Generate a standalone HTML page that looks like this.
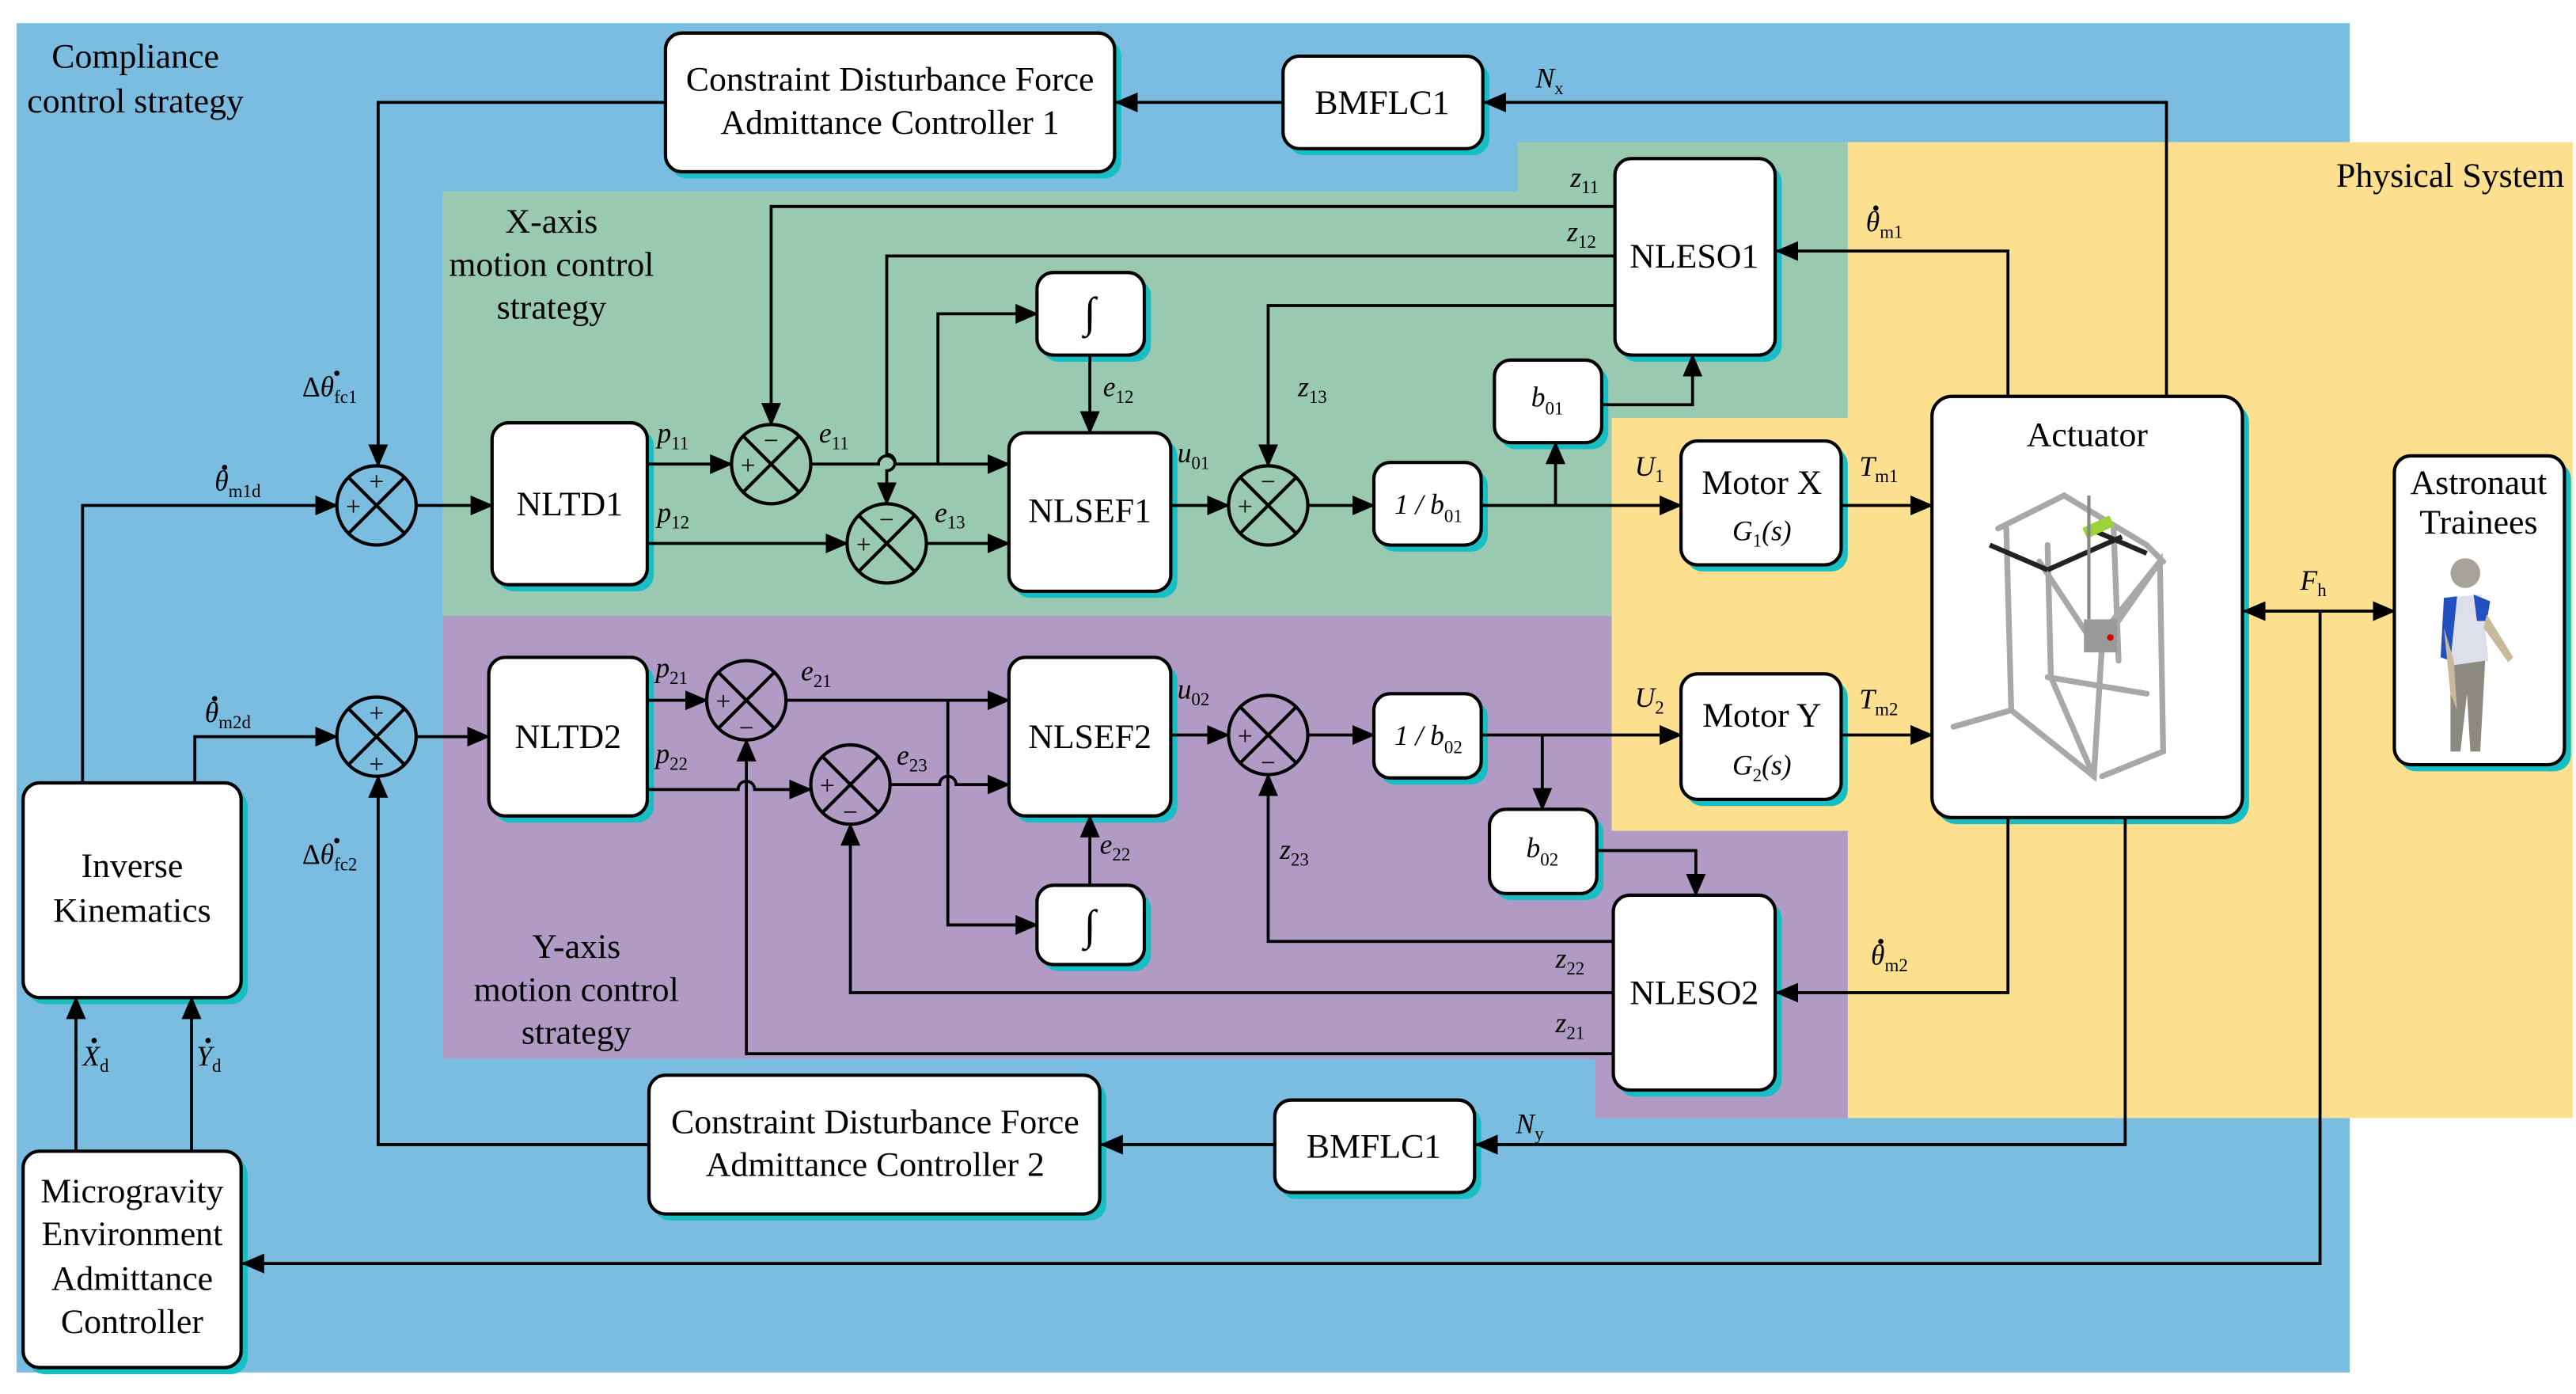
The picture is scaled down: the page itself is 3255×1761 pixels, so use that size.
<!DOCTYPE html>
<html><head><meta charset="utf-8"><style>
html,body{margin:0;padding:0;background:#fff;}
svg{display:block;font-family:"Liberation Serif","DejaVu Serif",serif;}
svg text, svg tspan{font-family:"Liberation Serif","DejaVu Serif",serif !important;}
.b{font-size:21px;}
.i{font-style:italic;font-size:17px;}
.s{font-size:11px;font-style:normal;}
</style></head><body>
<svg width="3255" height="1761" viewBox="0 0 1560 844" preserveAspectRatio="none" xmlns="http://www.w3.org/2000/svg" font-family="Liberation Serif, serif">
<defs>
<marker id="a" markerUnits="userSpaceOnUse" markerWidth="14" markerHeight="12" refX="13" refY="6" orient="auto"><path d="M0,0 L14,6 L0,12 z" fill="#000"/></marker>
<marker id="as" markerUnits="userSpaceOnUse" markerWidth="14" markerHeight="12" refX="1" refY="6" orient="auto"><path d="M14,0 L0,6 L14,12 z" fill="#000"/></marker>
</defs>
<rect width="1560" height="844" fill="#fff"/>
<rect x="10" y="14" width="1413" height="817" fill="#7bbde0"/>
<polygon points="268,116 919,116 919,86 1119,86 1119,253 976,253 976,373 268,373" fill="#9ac9b1"/>
<polygon points="268,373 976,373 976,503 1119,503 1119,677 966,677 966,641 268,641" fill="#b19bc4"/>
<polygon points="1119,86 1558,86 1558,677 1119,677 1119,503 976,503 976,253 1119,253" fill="#fddf90"/>

<text x="82" y="41" class="b" text-anchor="middle" font-size="20">Compliance</text>
<text x="82" y="68" class="b" text-anchor="middle" font-size="20">control strategy</text>
<text x="334" y="141" class="b" text-anchor="middle" font-size="20">X-axis</text>
<text x="334" y="167" class="b" text-anchor="middle" font-size="20">motion control</text>
<text x="334" y="193" class="b" text-anchor="middle" font-size="20">strategy</text>
<text x="349" y="580" class="b" text-anchor="middle" font-size="20">Y-axis</text>
<text x="349" y="606" class="b" text-anchor="middle" font-size="20">motion control</text>
<text x="349" y="632" class="b" text-anchor="middle" font-size="20">strategy</text>
<text x="1553" y="113" class="b" text-anchor="end" font-size="20">Physical System</text>

<g stroke="none" fill="#17bfc4">
<rect x="406" y="24" width="273" height="84" rx="10"/>
<rect x="780" y="38" width="122" height="56" rx="10"/>
<rect x="981" y="100" width="98" height="119" rx="10"/>
<rect x="631" y="169" width="66" height="50" rx="10"/>
<rect x="301" y="260" width="95" height="98" rx="10"/>
<rect x="614" y="266" width="99" height="96" rx="10"/>
<rect x="908" y="222" width="66" height="50" rx="10"/>
<rect x="835" y="284" width="66" height="50" rx="10"/>
<rect x="1021" y="271" width="98" height="75" rx="10"/>
<rect x="1173" y="244" width="189" height="255" rx="12"/>
<rect x="1453" y="280" width="104" height="187" rx="10"/>
<rect x="299" y="402" width="97" height="96" rx="10"/>
<rect x="614" y="402" width="99" height="96" rx="10"/>
<rect x="835" y="424" width="66" height="51" rx="10"/>
<rect x="905" y="494" width="66" height="51" rx="10"/>
<rect x="631" y="540" width="66" height="48" rx="10"/>
<rect x="1021" y="412" width="98" height="76" rx="10"/>
<rect x="980" y="546" width="99" height="118" rx="10"/>
<rect x="17" y="478" width="133" height="130" rx="10"/>
<rect x="17" y="701" width="133" height="131" rx="10"/>
<rect x="396" y="655" width="274" height="84" rx="10"/>
<rect x="775" y="670" width="122" height="56" rx="10"/>
</g>
<g stroke="#000" stroke-width="2" fill="#fff">
<rect x="403" y="20" width="272" height="84" rx="10"/>
<rect x="777" y="34" width="121" height="56" rx="10"/>
<rect x="978" y="96" width="97" height="119" rx="10"/>
<rect x="628" y="165" width="65" height="50" rx="10"/>
<rect x="298" y="256" width="94" height="98" rx="10"/>
<rect x="611" y="262" width="98" height="96" rx="10"/>
<rect x="905" y="218" width="65" height="50" rx="10"/>
<rect x="832" y="280" width="65" height="50" rx="10"/>
<rect x="1018" y="267" width="97" height="75" rx="10"/>
<rect x="1170" y="240" width="188" height="255" rx="12"/>
<rect x="1450" y="276" width="103" height="187" rx="10"/>
<rect x="296" y="398" width="96" height="96" rx="10"/>
<rect x="611" y="398" width="98" height="96" rx="10"/>
<rect x="832" y="420" width="65" height="51" rx="10"/>
<rect x="902" y="490" width="65" height="51" rx="10"/>
<rect x="628" y="536" width="65" height="48" rx="10"/>
<rect x="1018" y="408" width="97" height="76" rx="10"/>
<rect x="977" y="542" width="98" height="118" rx="10"/>
<rect x="14" y="474" width="132" height="130" rx="10"/>
<rect x="14" y="697" width="132" height="131" rx="10"/>
<rect x="393" y="651" width="273" height="84" rx="10"/>
<rect x="772" y="666" width="121" height="56" rx="10"/>
</g>
<g class="b" text-anchor="middle">
<text x="539" y="55">Constraint Disturbance Force</text>
<text x="539" y="81">Admittance Controller 1</text>
<text x="837" y="69">BMFLC1</text>
<text x="1026" y="162">NLESO1</text>
<text x="345" y="312">NLTD1</text>
<text x="660" y="316">NLSEF1</text>
<text x="1067" y="299">Motor X</text>
<text x="1264" y="270">Actuator</text>
<text x="1501" y="299">Astronaut</text>
<text x="1501" y="323">Trainees</text>
<text x="344" y="453">NLTD2</text>
<text x="660" y="453">NLSEF2</text>
<text x="1067" y="440">Motor Y</text>
<text x="1026" y="608">NLESO2</text>
<text x="80" y="531">Inverse</text>
<text x="80" y="558">Kinematics</text>
<text x="80" y="728">Microgravity</text>
<text x="80" y="754">Environment</text>
<text x="80" y="781">Admittance</text>
<text x="80" y="807">Controller</text>
<text x="530" y="686">Constraint Disturbance Force</text>
<text x="530" y="712">Admittance Controller 2</text>
<text x="832" y="701">BMFLC1</text>
<text x="660" y="198" font-size="26" font-style="italic">∫</text>
<text x="660" y="569" font-size="26" font-style="italic">∫</text>
</g>
<g class="i" text-anchor="middle" font-size="19">
<text x="1067" y="327">G<tspan class="s" dy="4">1</tspan><tspan dy="-4">(s)</tspan></text>
<text x="1067" y="469">G<tspan class="s" dy="4">2</tspan><tspan dy="-4">(s)</tspan></text>
<text x="865" y="311">1 / b<tspan class="s" dy="5">01</tspan></text>
<text x="865" y="451">1 / b<tspan class="s" dy="5">02</tspan></text>
<text x="937" y="246">b<tspan class="s" dy="5">01</tspan></text>
<text x="934" y="519">b<tspan class="s" dy="5">02</tspan></text>
</g>

<g stroke="#000" stroke-width="2" fill="none">
<circle cx="228" cy="306" r="24"/><path d="M211,289 L245,323 M245,289 L211,323"/>
<circle cx="228" cy="446" r="24"/><path d="M211,429 L245,463 M245,429 L211,463"/>
<circle cx="467" cy="281" r="24"/><path d="M450,264 L484,298 M484,264 L450,298"/>
<circle cx="537" cy="329" r="24"/><path d="M520,312 L554,346 M554,312 L520,346"/>
<circle cx="768" cy="306" r="24"/><path d="M751,289 L785,323 M785,289 L751,323"/>
<circle cx="452" cy="424" r="24"/><path d="M435,407 L469,441 M469,407 L435,441"/>
<circle cx="515" cy="475" r="24"/><path d="M498,458 L532,492 M532,458 L498,492"/>
<circle cx="768" cy="445" r="24"/><path d="M751,428 L785,462 M785,428 L751,462"/>
</g>
<g font-size="16" text-anchor="middle">
<text x="228" y="297">+</text><text x="214" y="312">+</text>
<text x="228" y="437">+</text><text x="228" y="468">+</text>
<text x="467" y="272">−</text><text x="453" y="287">+</text>
<text x="537" y="320">−</text><text x="523" y="335">+</text>
<text x="768" y="297">−</text><text x="754" y="312">+</text>
<text x="438" y="430">+</text><text x="452" y="446">−</text>
<text x="501" y="481">+</text><text x="515" y="497">−</text>
<text x="754" y="451">+</text><text x="768" y="467">−</text>
</g>

<g stroke="#000" stroke-width="1.8" fill="none" marker-end="url(#a)">
<path d="M403,62 H229 V282"/>
<path d="M777,62 H676"/>
<path d="M1312,240 V62 H899"/>
<path d="M1216,240 V152 H1076"/>
<path d="M978,125 H467 V257"/>
<path d="M978,155 H537 V275 a5,5 0 0 1 0,10 V305"/>
<path d="M978,185 H768 V282"/>
<path d="M660,215 V262"/>
<path d="M491,281 H532 a5,5 0 0 1 10,0 H611"/>
<path d="M568,281 V190 H628"/>
<path d="M392,281 H443"/>
<path d="M392,329 H513"/>
<path d="M561,329 H611"/>
<path d="M252,306 H298"/>
<path d="M50,474 V306 H204"/>
<path d="M709,306 H744"/>
<path d="M792,306 H832"/>
<path d="M897,306 H1018"/>
<path d="M942,306 V268"/>
<path d="M970,245 H1025 V215"/>
<path d="M1115,306 H1170"/>
<path d="M118,474 V446 H204"/>
<path d="M252,446 H296"/>
<path d="M393,693 H229 V470"/>
<path d="M392,424 H428"/>
<path d="M476,424 H611"/>
<path d="M574,424 V560 H628"/>
<path d="M392,478 H447 a5,5 0 0 1 10,0 H491"/>
<path d="M539,475 H569 a5,5 0 0 1 10,0 H611"/>
<path d="M660,536 V494"/>
<path d="M709,445 H744"/>
<path d="M792,445 H832"/>
<path d="M897,445 H1018"/>
<path d="M934,445 V490"/>
<path d="M967,515 H1027 V542"/>
<path d="M977,570 H768 V469"/>
<path d="M977,601 H515 V499"/>
<path d="M977,638 H452 V448"/>
<path d="M1216,495 V601 H1076"/>
<path d="M1287,495 V693 H894"/>
<path d="M772,693 H667"/>
<path d="M1405,370 V765 H147"/>
<path d="M46,697 V604"/>
<path d="M116,697 V604"/>
<path d="M1115,445 H1170"/>
<path d="M1359,370 H1450" marker-start="url(#as)"/>
</g>

<!-- dots for theta-dot, X-dot -->
<g fill="#000">
<circle cx="1136" cy="126" r="1.6"/><circle cx="1139" cy="570" r="1.6"/>
<circle cx="136" cy="283" r="1.6"/><circle cx="130" cy="423" r="1.6"/>
<circle cx="204" cy="226" r="1.6"/><circle cx="204" cy="509" r="1.6"/>
<circle cx="57" cy="630" r="1.6"/><circle cx="126" cy="630" r="1.6"/>
</g>
<g class="i">
<text x="930" y="53">N<tspan class="s" dy="4" font-style="italic">x</tspan></text>
<text x="918" y="686">N<tspan class="s" dy="4" font-style="italic">y</tspan></text>
<text x="1130" y="140">θ<tspan class="s" dy="4" font-style="italic">m1</tspan></text>
<text x="1133" y="584">θ<tspan class="s" dy="4" font-style="italic">m2</tspan></text>
<text x="951" y="113">z<tspan class="s" dy="4">11</tspan></text>
<text x="949" y="146">z<tspan class="s" dy="4">12</tspan></text>
<text x="786" y="240">z<tspan class="s" dy="4">13</tspan></text>
<text x="775" y="520">z<tspan class="s" dy="4">23</tspan></text>
<text x="942" y="586">z<tspan class="s" dy="4">22</tspan></text>
<text x="942" y="625">z<tspan class="s" dy="4">21</tspan></text>
<text x="398" y="268">p<tspan class="s" dy="4">11</tspan></text>
<text x="398" y="316">p<tspan class="s" dy="4">12</tspan></text>
<text x="397" y="410">p<tspan class="s" dy="4">21</tspan></text>
<text x="397" y="462">p<tspan class="s" dy="4">22</tspan></text>
<text x="496" y="268">e<tspan class="s" dy="4">11</tspan></text>
<text x="566" y="316">e<tspan class="s" dy="4">13</tspan></text>
<text x="668" y="240">e<tspan class="s" dy="4">12</tspan></text>
<text x="485" y="412">e<tspan class="s" dy="4">21</tspan></text>
<text x="543" y="463">e<tspan class="s" dy="4">23</tspan></text>
<text x="666" y="517">e<tspan class="s" dy="4">22</tspan></text>
<text x="713" y="280">u<tspan class="s" dy="4">01</tspan></text>
<text x="713" y="423">u<tspan class="s" dy="4">02</tspan></text>
<text x="990" y="288">U<tspan class="s" dy="4">1</tspan></text>
<text x="990" y="428">U<tspan class="s" dy="4">2</tspan></text>
<text x="1126" y="288">T<tspan class="s" dy="4" font-style="italic">m1</tspan></text>
<text x="1126" y="429">T<tspan class="s" dy="4" font-style="italic">m2</tspan></text>
<text x="1393" y="357">F<tspan class="s" dy="4" font-style="italic">h</tspan></text>
<text x="130" y="297">θ<tspan class="s" dy="4" font-style="italic">m1d</tspan></text>
<text x="124" y="437">θ<tspan class="s" dy="4" font-style="italic">m2d</tspan></text>
<text x="183" y="240"><tspan font-style="normal">Δ</tspan>θ<tspan class="s" dy="4">fc1</tspan></text>
<text x="183" y="523"><tspan font-style="normal">Δ</tspan>θ<tspan class="s" dy="4">fc2</tspan></text>
<text x="50" y="645">X<tspan class="s" dy="4" font-style="italic">d</tspan></text>
<text x="119" y="645">Y<tspan class="s" dy="4" font-style="italic">d</tspan></text>
</g>

<g stroke="#a8a8a8" stroke-width="3.5" fill="none" stroke-linecap="round">
<path d="M1210,320 L1250,300 L1300,330 L1310,340"/>
<path d="M1215,320 L1218,430 L1183,440"/>
<path d="M1218,430 L1268,470 L1273,390 L1308,340 L1310,455 L1273,470"/>
<path d="M1240,330 L1242,410 L1268,470"/>
<path d="M1240,410 L1300,420"/>
<path d="M1280,320 L1283,400"/>
<path d="M1235,340 L1268,390 L1308,340"/>
</g>
<g stroke="#222" stroke-width="3" fill="none"><path d="M1205,330 L1240,345 M1265,320 L1300,335 M1240,345 L1285,325"/></g>
<rect x="1262" y="316" width="18" height="7" fill="#9ad43a" transform="rotate(-25 1270 320)"/>
<rect x="1262" y="375" width="20" height="20" fill="#999"/>
<circle cx="1278" cy="386" r="2" fill="#d00"/>
<line x1="1265" y1="300" x2="1265" y2="375" stroke="#888" stroke-width="2"/>
<g>
<circle cx="1493" cy="347" r="9" fill="#a8a39a"/>
<path d="M1480,362 L1503,360 L1507,400 L1484,405 z" fill="#dde0ea"/>
<path d="M1480,362 L1488,361 L1484,400 L1478,398 z" fill="#2350c0"/>
<path d="M1498,360 L1508,364 L1506,376 L1500,376 z" fill="#2350c0"/>
<path d="M1484,403 L1505,400 L1502,455 L1496,455 L1494,420 L1490,455 L1484,455 z" fill="#8c8a80"/>
<path d="M1506,372 L1522,398 L1519,401 L1504,380 z" fill="#c9b89a"/>
<path d="M1480,380 L1484,420 L1488,430 L1486,400 z" fill="#c9b89a"/>
</g>
</svg>
</body></html>
